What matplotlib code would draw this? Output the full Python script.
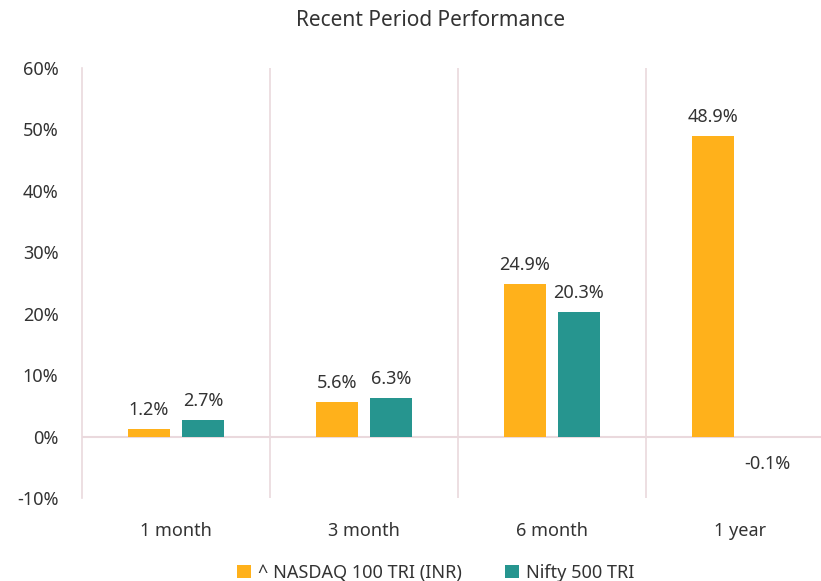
import numpy as np
import matplotlib.pyplot as plt
from matplotlib.ticker import FuncFormatter

plt.rcParams['font.family'] = ['Noto Sans', 'DejaVu Sans']

periods = ["1 month", "3 month", "6 month", "1 year"]
nasdaq = [1.2, 5.6, 24.9, 48.9]
nifty = [2.7, 6.3, 20.3, -0.1]
series_names = ["^ NASDAQ 100 TRI (INR)", "Nifty 500 TRI"]

orange = "#FFB11B"
teal = "#26958F"
grid_col = "#EAD9DD"
txt = "#333333"

fig = plt.figure(figsize=(8.21, 5.81), dpi=100)
ax = fig.add_axes([82/821, 1 - 498/581, 752/821, 430/581])

x = np.arange(len(periods))
w = 0.223
off = 0.1436
b1 = ax.bar(x - off, nasdaq, w, color=orange, label=series_names[0], zorder=3)
b2 = ax.bar(x + off, nifty, w, color=teal, label=series_names[1], zorder=3)

for bars, vals in [(b1, nasdaq), (b2, nifty)]:
    for r, v in zip(bars, vals):
        cx = r.get_x() + r.get_width() / 2
        if v >= 0:
            ax.annotate(f"{v:.1f}%", (cx, v), xytext=(0, 7), textcoords="offset points",
                        ha="center", va="bottom", fontsize=13, color=txt)
        else:
            ax.annotate(f"{v:.1f}%", (cx, 0), xytext=(0, -20), textcoords="offset points",
                        ha="center", va="center", fontsize=13, color=txt)

ax.set_xlim(-0.5, len(periods) - 0.5)
ax.set_ylim(-10, 60)
ax.set_yticks(np.arange(-10, 61, 10))
ax.yaxis.set_major_formatter(FuncFormatter(lambda v, p: f"{v:.0f}%"))
ax.set_xticks(x)
ax.set_xticklabels(periods)
ax.tick_params(length=0, labelsize=13, colors=txt)
ax.tick_params(axis="y", pad=17)
ax.tick_params(axis="x", pad=17)

for s in ["top", "right", "bottom"]:
    ax.spines[s].set_visible(False)
ax.spines["left"].set_color(grid_col)
ax.spines["left"].set_linewidth(1.2)
for b in np.arange(0.5, len(periods), 1.0):
    ax.axvline(b, color=grid_col, lw=1.2, zorder=1)
ax.axhline(0, color=grid_col, lw=1.5, zorder=2)

fig.suptitle("Recent Period Performance", x=431/821, y=1 - 20/581, va="center",
             fontsize=15, color=txt)

fig.legend(loc="center", bbox_to_anchor=(436/821, 1 - 573/581), ncol=2, frameon=False,
           fontsize=13, labelcolor=txt, handlelength=0.75, handleheight=0.75,
           handletextpad=0.4, columnspacing=2.4)

fig.savefig("out.png", dpi=100)
